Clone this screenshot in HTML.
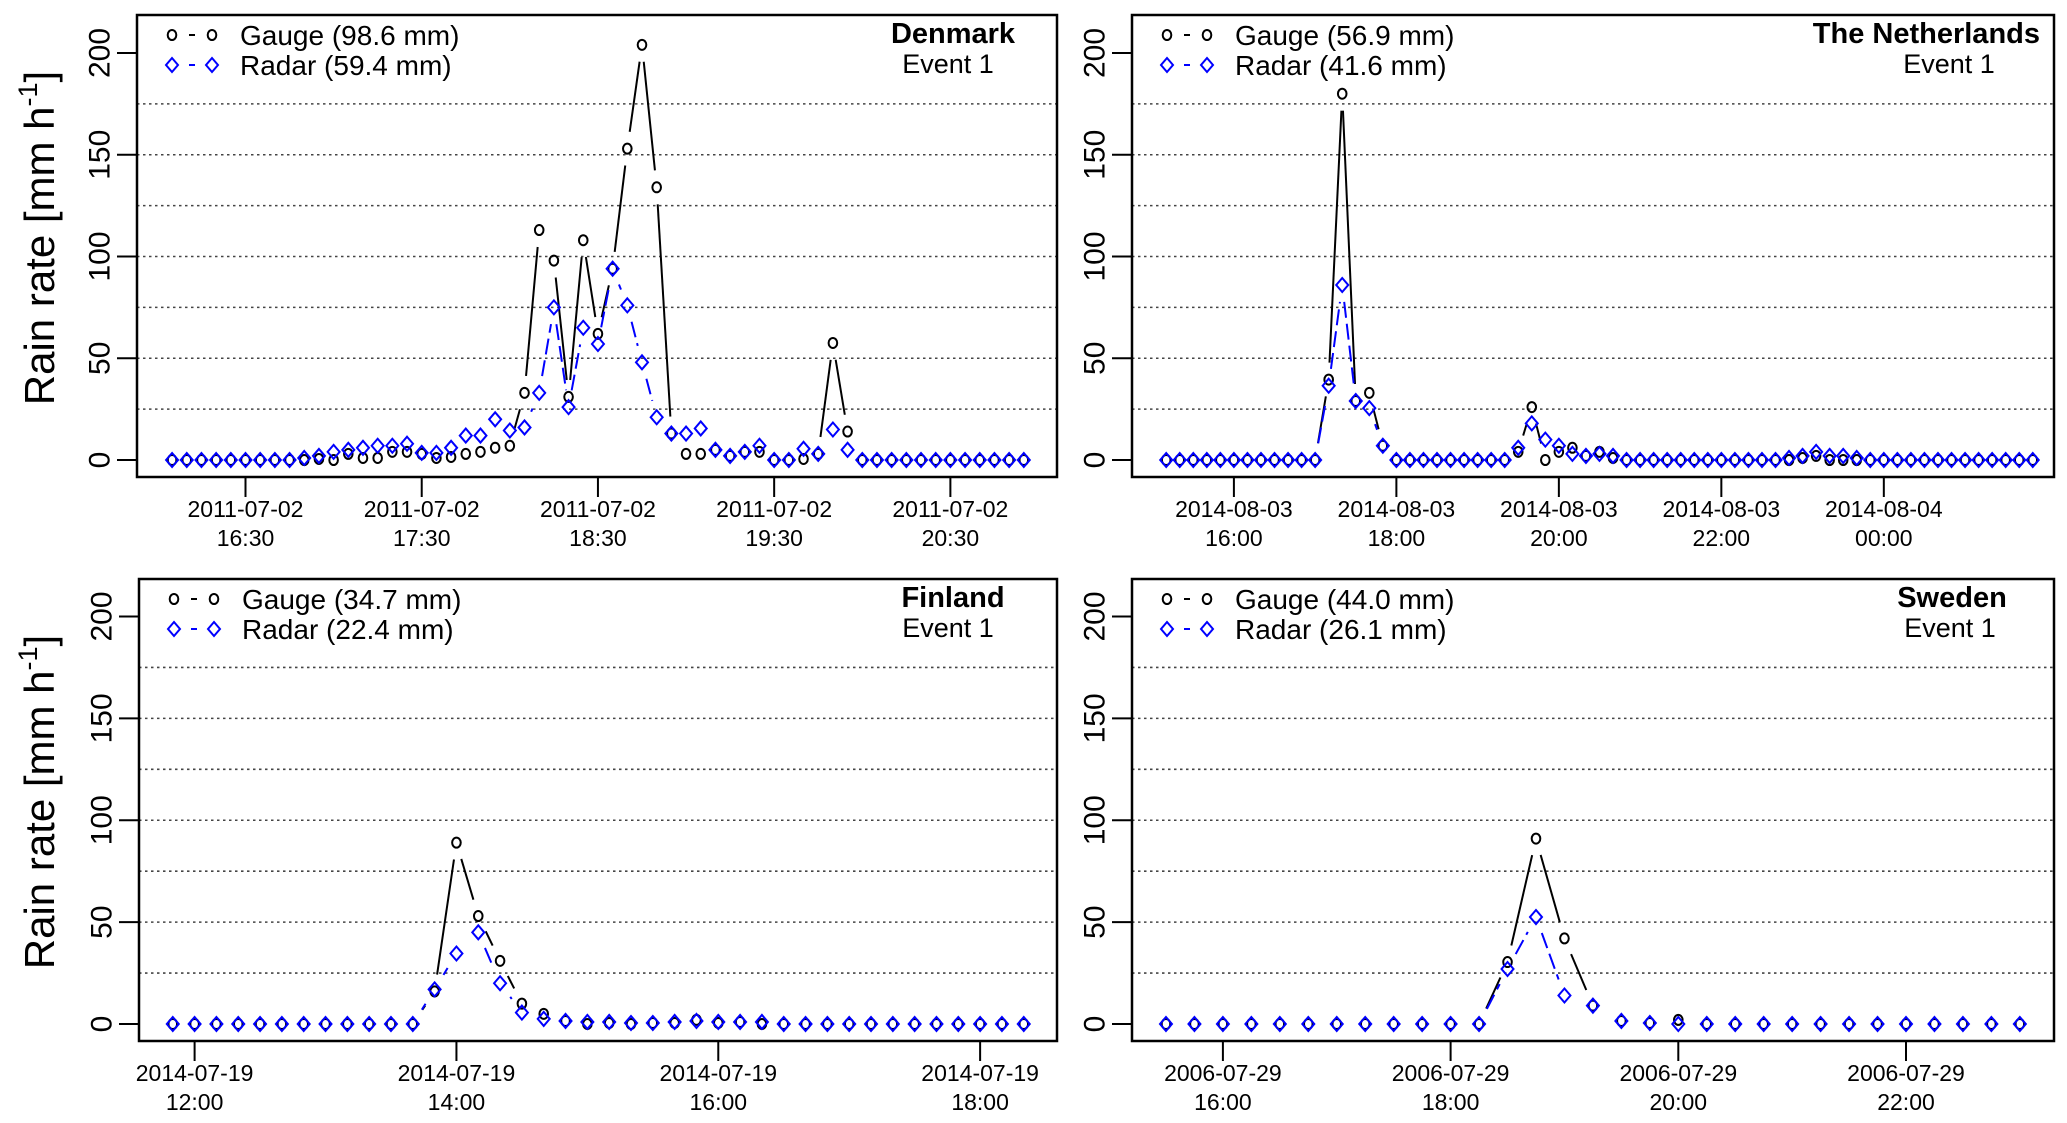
<!DOCTYPE html>
<html><head><meta charset="utf-8"><style>
html,body{margin:0;padding:0;background:#fff;}
svg{display:block;font-family:"Liberation Sans",Arial,sans-serif;}
</style></head><body>
<svg id="chart" width="2067" height="1123" viewBox="0 0 2067 1123" xmlns="http://www.w3.org/2000/svg"></svg>
<script>
// ---- data ----
const dkGauge = [0,0,0,0,0,0,0,0,0,0,0.5,0,3,1,1,4,4,3,1,1.5,3,4,6,7,33,113,98,31,108,62,94,153,204,134,13,3,3,5,2,4,4,0,0,0.5,3,57.5,14,0,0,0,0,0,0,0,0,0,0,0,0];
const dkRadar = [0,0,0,0,0,0,0,0,0,1,2,4,5,6,7,7,8,3.5,3.5,6,12,12,20,14.5,16,33,75,26,65,57,94,76,48,21,13,13,15.5,5,2,4,7,0,0,5.5,3,15,5,0,0,0,0,0,0,0,0,0,0,0,0];
const nlGauge = [0,0,0,0,0,0,0,0,0,0,0,0,39.5,180,29,33,7,0,0,0,0,0,0,0,0,0,4,26,0,4,6,2,4,1,0,0,0,0,0,0,0,0,0,0,0,0,0,1,2,0,0,0,0,0,0,0,0,0,0,0,0,0,0,0,0];
const nlRadar = [0,0,0,0,0,0,0,0,0,0,0,0,36.5,86,29,25.5,7,0,0,0,0,0,0,0,0,0,6,18,10,7,3,2,3,2,0,0,0,0,0,0,0,0,0,0,0,0,1,2,4,2,2,1,0,0,0,0,0,0,0,0,0,0,0,0,0];
const fiGauge = [0,0,0,0,0,0,0,0,0,0,0,0,16,89,53,31,10,5,1.5,0,0.5,0,0.5,0.5,2,0.5,1,0,0,0,0,0,0,0,0,0,0,0,0,0];
const fiRadar = [0,0,0,0,0,0,0,0,0,0,0,0,17,34.6,45,20,5.6,2.5,1.5,1,1,0.5,0.5,1,1.5,1,1,1,0,0,0,0,0,0,0,0,0,0,0,0];
const seGauge = [0,0,0,0,0,0,0,0,0,0,0,0,30.4,91,42,9,1.5,0.5,2,0,0,0,0,0,0,0,0,0,0,0,0];
const seRadar = [0,0,0,0,0,0,0,0,0,0,0,0,27,52.5,14,9,1.5,0.5,0,0,0,0,0,0,0,0,0,0,0,0,0];
const yTicks = [0,50,100,150,200];
const yGrid = [25,50,75,100,125,150,175];
const dkTickLabels = [["2011-07-02","16:30"],["2011-07-02","17:30"],["2011-07-02","18:30"],["2011-07-02","19:30"],["2011-07-02","20:30"]];
const nlTickLabels = [["2014-08-03","16:00"],["2014-08-03","18:00"],["2014-08-03","20:00"],["2014-08-03","22:00"],["2014-08-04","00:00"]];
const fiTickLabels = [["2014-07-19","12:00"],["2014-07-19","14:00"],["2014-07-19","16:00"],["2014-07-19","18:00"]];
const seTickLabels = [["2006-07-29","16:00"],["2006-07-29","18:00"],["2006-07-29","20:00"],["2006-07-29","22:00"]];
const dkTickMinutes = [0,60,120,180,240];
const nlTickMinutes = [0,120,240,360,480];
const fiTickMinutes = [0,120,240,360];
const seTickMinutes = [0,120,240,360];
const legendTotals = [["98.6","59.4"],["56.9","41.6"],["34.7","22.4"],["44.0","26.1"]];
const countries = ["Denmark","The Netherlands","Finland","Sweden"];

const NS="http://www.w3.org/2000/svg";
const svg=document.getElementById('chart');
function mk(tag,attrs,parent){const e=document.createElementNS(NS,tag);for(const k in attrs)e.setAttribute(k,attrs[k]);(parent||svg).appendChild(e);return e;}

const panels=[
 {key:'dk',name:countries[0],tot:legendTotals[0],g:dkGauge,r:dkRadar,ticks:dkTickMinutes,labels:dkTickLabels,
  L:137,T:15,R:1057,B:477,x0:245.5,ppm:2.937,start:-25,step:5,y0:460,y200:53,ylab:true,tx:953,ta:'middle',ex:948},
 {key:'nl',name:countries[1],tot:legendTotals[1],g:nlGauge,r:nlRadar,ticks:nlTickMinutes,labels:nlTickLabels,
  L:1132,T:15,R:2054,B:477,x0:1233.9,ppm:1.354,start:-50,step:10,y0:460,y200:53,ylab:false,tx:2040,ta:'end',ex:1949},
 {key:'fi',name:countries[2],tot:legendTotals[2],g:fiGauge,r:fiRadar,ticks:fiTickMinutes,labels:fiTickLabels,
  L:139,T:579,R:1057,B:1041,x0:194.6,ppm:2.182,start:-10,step:10,y0:1024,y200:616.5,ylab:true,tx:953,ta:'middle',ex:948},
 {key:'se',name:countries[3],tot:legendTotals[3],g:seGauge,r:seRadar,ticks:seTickMinutes,labels:seTickLabels,
  L:1132,T:579,R:2054,B:1041,x0:1222.9,ppm:1.8975,start:-30,step:15,y0:1024,y200:616.5,ylab:false,tx:1952,ta:'middle',ex:1950}
];

function segs(pts,gap,attrs,parent){
  for(let i=0;i<pts.length-1;i++){
    const [x1,y1]=pts[i],[x2,y2]=pts[i+1];
    const dx=x2-x1,dy=y2-y1,len=Math.hypot(dx,dy);
    if(len<=2*gap+1)continue;
    const ux=dx/len,uy=dy/len;
    const l=mk('line',Object.assign({x1:x1+ux*gap,y1:y1+uy*gap,x2:x2-ux*gap,y2:y2-uy*gap},attrs),parent);
    
    
  }
}
function circle(x,y,parent){const c=mk('ellipse',{cx:x,cy:y,rx:4.3,ry:5,fill:'none',stroke:'#000','stroke-width':2},parent);return c;}
function diamond(x,y,parent){const d=mk('polygon',{points:`${x},${y-7} ${x+6},${y} ${x},${y+7} ${x-6},${y}`,fill:'none',stroke:'#0000ff','stroke-width':2},parent);return d;}

panels.forEach(p=>{
  const g=mk('g',{});
  
  
  const X=m=>p.x0+m*p.ppm;
  const Y=v=>p.y0-v*(p.y0-p.y200)/200;
  yGrid.forEach(v=>{const l=mk('line',{x1:p.L,x2:p.R,y1:Y(v),y2:Y(v),stroke:'#444','stroke-width':1.6,'stroke-dasharray':'2.5,3.5'},g);
    });
  yTicks.forEach(v=>{
    const l=mk('line',{x1:p.L-20,x2:p.L,y1:Y(v),y2:Y(v),stroke:'#000','stroke-width':2},g);
    
    const cx=p.L-37;
    const t=mk('text',{x:cx,y:Y(v),transform:`rotate(-90 ${cx} ${Y(v)})`,'text-anchor':'middle','dominant-baseline':'central','font-size':30,fill:'#000'},g);
    t.textContent=v;
  });
  p.ticks.forEach((m,i)=>{
    const l=mk('line',{x1:X(m),x2:X(m),y1:p.B,y2:p.B+20,stroke:'#000','stroke-width':2},g);
    
    const t1=mk('text',{x:X(m),y:p.B+40,'text-anchor':'middle','font-size':23,fill:'#000'},g);
    t1.textContent=p.labels[i][0];
    const t2=mk('text',{x:X(m),y:p.B+69,'text-anchor':'middle','font-size':23,fill:'#000'},g);
    t2.textContent=p.labels[i][1];
  });
  if(p.ylab){
    const cy=(p.T+p.B)/2-8;
    const t=mk('text',{x:54,y:cy,transform:`rotate(-90 54 ${cy})`,'text-anchor':'middle','font-size':42,fill:'#000'},g);
    t.innerHTML='Rain rate [mm h<tspan font-size="27" dy="-17">-1</tspan><tspan dy="17">]</tspan>';
    
  }
  const gp=p.g.map((v,i)=>[X(p.start+i*p.step),Y(v)]);
  const rp=p.r.map((v,i)=>[X(p.start+i*p.step),Y(v)]);
  segs(gp,17,{stroke:'#000','stroke-width':2},g);
  segs(rp,17,{stroke:'#0000ff','stroke-width':2,'stroke-dasharray':'16,6'},g);
  gp.forEach(([x,y])=>{const c=circle(x,y,g);});
  rp.forEach(([x,y])=>{const d=diamond(x,y,g);});
  const b=mk('rect',{x:p.L,y:p.T,width:p.R-p.L,height:p.B-p.T,fill:'none',stroke:'#000','stroke-width':2.5},g);
  
  const lg=mk('g',{},g);
  
  const lx=p.L+35, ly1=p.T+20, ly2=p.T+50;
  circle(lx,ly1,lg);circle(lx+40,ly1,lg);
  mk('line',{x1:lx+17,x2:lx+23,y1:ly1,y2:ly1,stroke:'#000','stroke-width':2},lg);
  diamond(lx,ly2,lg);diamond(lx+40,ly2,lg);
  mk('line',{x1:lx+17,x2:lx+23,y1:ly2,y2:ly2,stroke:'#0000ff','stroke-width':2},lg);
  const t1=mk('text',{x:lx+68,y:ly1+10,'font-size':28,fill:'#000'},lg);
  t1.textContent=`Gauge (${p.tot[0]} mm)`;
  const t2=mk('text',{x:lx+68,y:ly2+10,'font-size':28,fill:'#000'},lg);
  t2.textContent=`Radar (${p.tot[1]} mm)`;
  const tt=mk('text',{x:p.tx,y:p.T+28,'text-anchor':p.ta,'font-size':29,'font-weight':'bold',fill:'#000'},g);
  tt.textContent=p.name;
  const te=mk('text',{x:p.ex,y:p.T+58,'text-anchor':'middle','font-size':27,fill:'#000'},g);
  te.textContent='Event 1';
});
</script>
</body></html>
